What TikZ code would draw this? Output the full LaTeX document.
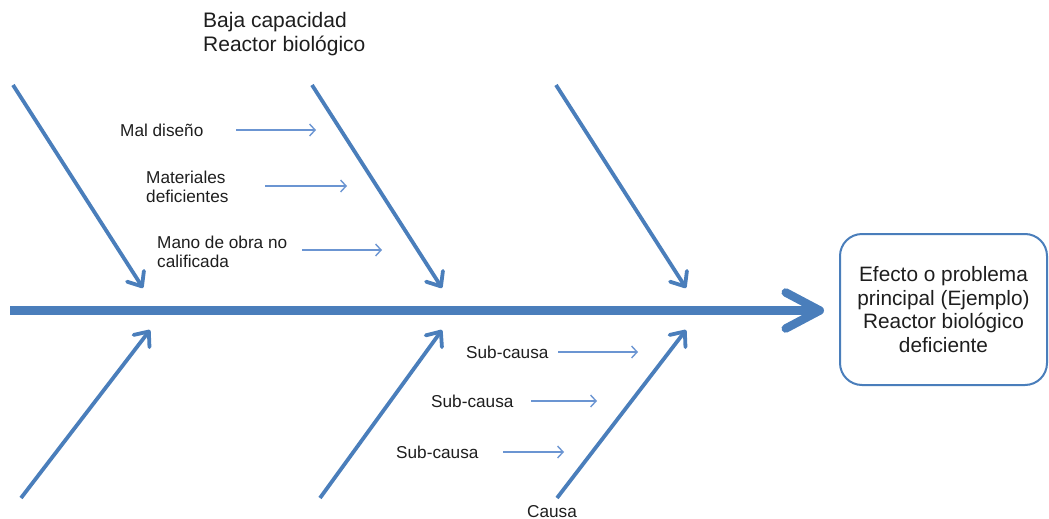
\documentclass[tikz,border=0pt]{standalone}
\usepackage{fontspec}
\setmainfont{Liberation Sans}
\usetikzlibrary{arrows.meta}
\definecolor{bonecol}{HTML}{4A7EBB}
\definecolor{subcol}{HTML}{6B95D2}
\definecolor{txtcol}{HTML}{1E1E1E}
\begin{document}
\begin{tikzpicture}[x=1pt,y=-1pt,
  bone/.style={draw=bonecol,line width=3.8pt,-{Straight Barb[length=12pt,width=20pt,round]}},
  spine/.style={draw=bonecol,line width=9pt,-{Straight Barb[length=34pt,width=36pt,line width=8.5pt,round]}},
  subarrow/.style={draw=subcol,line width=1.4pt,-{Straight Barb[length=5.5pt,width=12pt]}},
  lbl/.style={text=txtcol,font=\fontsize{17.2}{19}\selectfont,align=left,inner sep=0pt,anchor=west},
  bigtxt/.style={text=txtcol,font=\fontsize{21}{24}\selectfont,align=left,inner sep=0pt},
  effect/.style={draw=bonecol,line width=2pt,rounded corners=22pt,minimum width=207pt,minimum height=151pt,
    text=txtcol,font=\fontsize{20.8}{23.5}\selectfont,align=center}]
\useasboundingbox (0,0) rectangle (1049,519);

% effect box and main spine
\node[effect] (effect) at (943.5,309.5) {Efecto o problema\\principal (Ejemplo)\\Reactor biológico\\deficiente};
\coordinate (tail) at (10,310.5);
\coordinate (head) at (824,310.5);
\draw[spine] (tail) -- (head);

% upper bones
\coordinate (ua1) at (13,85);  \coordinate (ua2) at (143,288);
\coordinate (ub1) at (312,85); \coordinate (ub2) at (442,288);
\coordinate (uc1) at (556,85); \coordinate (uc2) at (686,288);
\draw[bone] (ua1) -- (ua2);
\draw[bone] (ub1) -- (ub2);
\draw[bone] (uc1) -- (uc2);

% lower bones
\coordinate (la1) at (21,498);  \coordinate (la2) at (150,330);
\coordinate (lb1) at (320,498); \coordinate (lb2) at (442,330);
\coordinate (lc1) at (557,498); \coordinate (lc2) at (686,330);
\draw[bone] (la1) -- (la2);
\draw[bone] (lb1) -- (lb2);
\draw[bone] (lc1) -- (lc2);

% cause titles
\node[bigtxt,anchor=north west] (cause1) at (203,12) {Baja capacidad\\Reactor biológico};
\node[bigtxt,font=\fontsize{17.2}{19}\selectfont,anchor=base] (cause2) at (552,517) {Causa};

% sub-causes of the upper bone
\node[lbl] (s1) at (120,130) {Mal diseño};
\node[lbl] (s2) at (146,187) {Materiales\\deficientes};
\node[lbl] (s3) at (157,251.5) {Mano de obra no\\calificada};
\coordinate (s1a) at (236,130); \coordinate (s1b) at (316,130);
\coordinate (s2a) at (265,186); \coordinate (s2b) at (347,186);
\coordinate (s3a) at (302,250); \coordinate (s3b) at (382,250);
\draw[subarrow] (s1a) -- (s1b);
\draw[subarrow] (s2a) -- (s2b);
\draw[subarrow] (s3a) -- (s3b);

% sub-causes of the lower bone
\node[lbl] (t1) at (466,352.5) {Sub-causa};
\node[lbl] (t2) at (431,401.5) {Sub-causa};
\node[lbl] (t3) at (396,452.5) {Sub-causa};
\coordinate (t1a) at (558,352); \coordinate (t1b) at (638,352);
\coordinate (t2a) at (531,401); \coordinate (t2b) at (597,401);
\coordinate (t3a) at (503,452); \coordinate (t3b) at (564,452);
\draw[subarrow] (t1a) -- (t1b);
\draw[subarrow] (t2a) -- (t2b);
\draw[subarrow] (t3a) -- (t3b);
\end{tikzpicture}
\end{document}
